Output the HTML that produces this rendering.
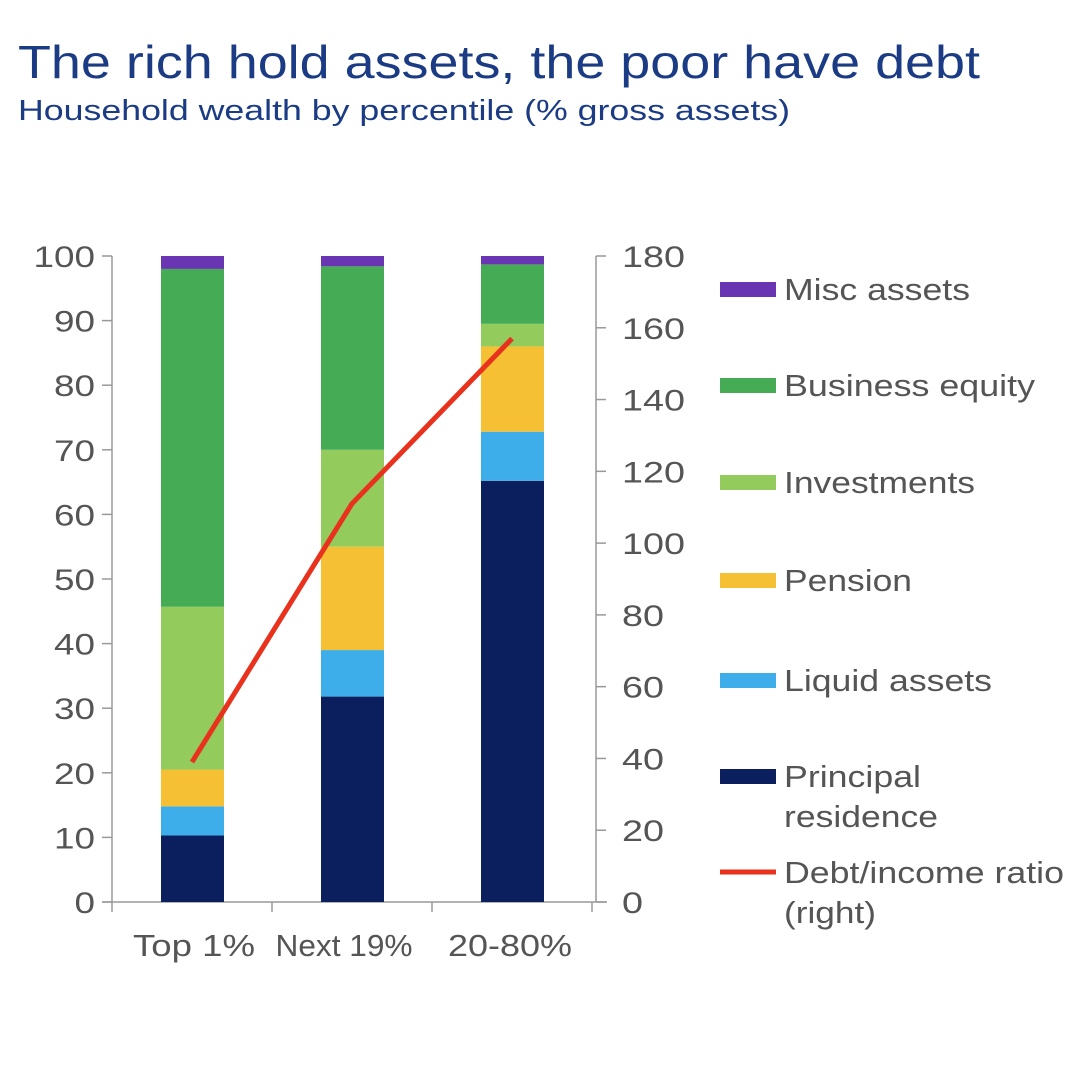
<!DOCTYPE html>
<html><head><meta charset="utf-8"><style>
body{margin:0;background:#fff;width:1084px;height:1080px;overflow:hidden;font-family:"Liberation Sans",sans-serif}
</style></head><body>
<svg width="1084" height="1080">
<text x="18" y="78" font-size="46" fill="#1b3c84" textLength="962" lengthAdjust="spacingAndGlyphs">The rich hold assets, the poor have debt</text>
<text x="18" y="120" font-size="29" fill="#1b3c84" textLength="772" lengthAdjust="spacingAndGlyphs">Household wealth by percentile (% gross assets)</text>
<g id="axes"></g><g id="bars"></g><g id="line"></g><g id="legend"></g>
</svg>
<script>
const categories=["Top 1%","Next 19%","20-80%"];
const seriesNames=["Principal residence","Liquid assets","Pension","Investments","Business equity","Misc assets"];
const residence=[10.3,31.8,65.2];
const liquid=[4.5,7.2,7.6];
const pension=[5.7,16,13.2];
const investments=[25.2,15,3.5];
const business=[52.3,28.4,9.2];
const misc=[2,1.6,1.3];
const debtIncome=[39,111,157];
const leftTicks=[0,10,20,30,40,50,60,70,80,90,100];
const rightTicks=[0,20,40,60,80,100,120,140,160,180];
const colors=["#0b1f5e","#3daee9","#f5c034","#93cb5c","#45ab55","#6a35b2"];
const NS="http://www.w3.org/2000/svg";
function mk(t,a,p){const e=document.createElementNS(NS,t);for(const k in a)e.setAttribute(k,a[k]);p.appendChild(e);return e;}
const y0=902,yTop=256,xL=112,xR=596,catW=160;
const yL=v=>y0-(v/100)*(y0-yTop);
const yR=v=>y0-(v/180)*(y0-yTop);
const xC=i=>xL+catW*(i+0.5);
const ax=document.getElementById('axes');
let e=mk('line',{x1:xL,y1:yTop,x2:xL,y2:y0,stroke:'#999','stroke-width':1.5},ax);


e=mk('line',{x1:xR,y1:yTop,x2:xR,y2:y0,stroke:'#999','stroke-width':1.5},ax);


e=mk('line',{x1:103,y1:y0,x2:607,y2:y0,stroke:'#999','stroke-width':1.5},ax);


for(let i=0;i<=categories.length;i++){mk('line',{x1:xL+catW*i,y1:y0,x2:xL+catW*i,y2:y0+10,stroke:'#999','stroke-width':1.5},ax);}
leftTicks.forEach(v=>{mk('line',{x1:xL-10,y1:yL(v),x2:xL,y2:yL(v),stroke:'#999','stroke-width':1.5},ax);
 const s=String(v);
 const t=mk('text',{x:95-20.5*s.length,y:yL(v)+11,'font-size':30,fill:'#555',textLength:20.5*s.length,lengthAdjust:'spacingAndGlyphs'},ax);t.textContent=s;
 
 });
rightTicks.forEach(v=>{mk('line',{x1:xR,y1:yR(v),x2:xR+10,y2:yR(v),stroke:'#999','stroke-width':1.5},ax);
 const s=String(v);
 const t=mk('text',{x:622,y:yR(v)+11,'font-size':30,fill:'#555',textLength:21*s.length,lengthAdjust:'spacingAndGlyphs'},ax);t.textContent=s;
 
 });
const catLen=[122,137,124];
categories.forEach((c,i)=>{const t=mk('text',{x:xC(i)+[2,-8,-2][i]-catLen[i]/2,y:956,'font-size':31,fill:'#555',textLength:catLen[i],lengthAdjust:'spacingAndGlyphs'},ax);t.textContent=c;
 
 });
const series=[residence,liquid,pension,investments,business,misc];
const bg=document.getElementById('bars');
categories.forEach((c,i)=>{let acc=0;series.forEach((s,k)=>{const top=acc+s[i];
 const r=mk('rect',{x:xC(i)-31,y:yL(top),width:63,height:yL(acc)-yL(top),fill:colors[k]},bg);
 
 
 acc=top;});});
const pts=debtIncome.map((v,i)=>xC(i)+','+yR(v)).join(' ');
const pl=mk('polyline',{points:pts,fill:'none',stroke:'#e8321e','stroke-width':5},document.getElementById('line'));


const lg=document.getElementById('legend');
const items=[["Misc assets"],["Business equity"],["Investments"],["Pension"],["Liquid assets"],["Principal","residence"],["Debt/income ratio","(right)"]];
const lens=[[186],[251],[191],[128],[208],[137,154],[280,92]];
const lc=["#6a35b2","#45ab55","#93cb5c","#f5c034","#3daee9","#0b1f5e","#e8321e"];
const ly=[289,385,482,580,680,776,872];
items.forEach((it,i)=>{const g=mk('g',{},lg);
 
 
 if(i<6)mk('rect',{x:720,y:ly[i]-7,width:56,height:15,fill:lc[i]},g);
 else mk('line',{x1:720,y1:ly[i],x2:776,y2:ly[i],stroke:lc[i],'stroke-width':5},g);
 it.forEach((s,j)=>{const t=mk('text',{x:784,y:ly[i]+11+j*40,'font-size':31,fill:'#555',textLength:lens[i][j],lengthAdjust:'spacingAndGlyphs'},g);t.textContent=s;});});
</script>
</body></html>
